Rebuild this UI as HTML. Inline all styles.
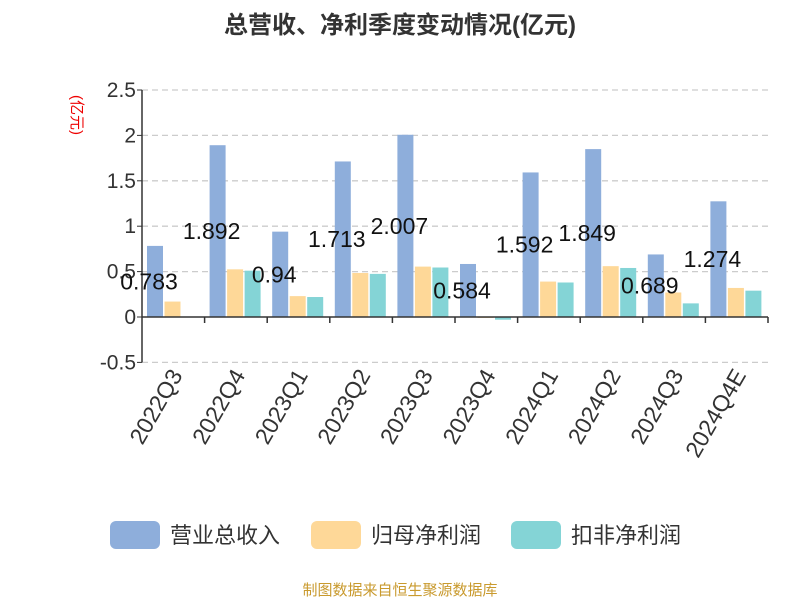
<!DOCTYPE html>
<html><head><meta charset="utf-8"><style>
body{margin:0;background:#fff;font-family:"Liberation Sans","Noto Sans CJK SC",sans-serif}
</style></head><body>
<svg width="800" height="600" xmlns="http://www.w3.org/2000/svg" id="chart" font-family="Liberation Sans, Noto Sans CJK SC, sans-serif">
<text x="400" y="33" text-anchor="middle" font-size="24" font-weight="bold" fill="#333">总营收、净利季度变动情况(亿元)</text>
<text transform="translate(72,115) rotate(90)" text-anchor="middle" font-size="15" fill="#e00">(亿元)</text>
<g id="grid"></g><g id="bars"></g><g id="labels"></g><g id="xaxis"></g>
<g>
<g><rect x="110" y="521" width="50" height="28" rx="6" fill="#8eaedb"/><text x="170" y="543" font-size="22" fill="#333">营业总收入</text></g>
<g><rect x="311" y="521" width="50" height="28" rx="6" fill="#fed898"/><text x="371" y="543" font-size="22" fill="#333">归母净利润</text></g>
<g><rect x="511" y="521" width="50" height="28" rx="6" fill="#84d4d6"/><text x="571" y="543" font-size="22" fill="#333">扣非净利润</text></g>
</g>
<text x="400" y="595" text-anchor="middle" font-size="15" fill="#c99a2e">制图数据来自恒生聚源数据库</text>
</svg>
<script>
const categories=["2022Q3","2022Q4","2023Q1","2023Q2","2023Q3","2023Q4","2024Q1","2024Q2","2024Q3","2024Q4E"];
const revenue=[0.783,1.892,0.94,1.713,2.007,0.584,1.592,1.849,0.689,1.274];
const netProfit=[0.17,0.525,0.23,0.485,0.555,-0.01,0.39,0.56,0.27,0.32];
const deductedProfit=[0,0.51,0.22,0.475,0.545,-0.03,0.38,0.54,0.15,0.29];
const yTicks=[-0.5,0,0.5,1,1.5,2,2.5];
const yTickLabels=["-0.5","0","0.5","1","1.5","2","2.5"];
const NS="http://www.w3.org/2000/svg";
const x0=142,x1=768,zeroY=317,pxPerUnit=90.8;
const cw=(x1-x0)/categories.length;
const y=v=>zeroY-v*pxPerUnit;
function mk(tag,attrs,parent){const e=document.createElementNS(NS,tag);for(const k in attrs)e.setAttribute(k,attrs[k]);document.getElementById(parent).appendChild(e);return e;}
yTicks.forEach((t,i)=>{
 if(t!==0){const l=mk('line',{x1:x0,x2:x1,y1:y(t),y2:y(t),stroke:'#ccc','stroke-dasharray':'6,4','stroke-width':1.3},'grid');
 
 }
 const tl=mk('text',{x:x0-6,y:y(t)+7,'text-anchor':'end','font-size':21,fill:'#333'},'grid');tl.textContent=yTickLabels[i];
 
 
 const tk=mk('line',{x1:x0-5,x2:x0,y1:y(t),y2:y(t),stroke:'#333'},'grid');
 
 
});
const ya=mk('line',{x1:x0,x2:x0,y1:y(2.5),y2:y(-0.5),stroke:'#333','stroke-width':1.5},'grid');


const series=[[revenue,'#8eaedb','bar-revenue'],[netProfit,'#fed898','bar-net-profit'],[deductedProfit,'#84d4d6','bar-deducted-profit']];
const bw=16,gap=1.5,off=5;
categories.forEach((c,i)=>{
 const cx=x0+i*cw;
 series.forEach(([arr,col,nm],s)=>{
  const v=arr[i];const bx=cx+off+s*(bw+gap);
  const r=mk('rect',{x:bx,y:Math.min(y(v),zeroY),width:bw,height:Math.max(Math.abs(y(v)-zeroY),0.5),fill:col},'bars');
  
  
 });
 const lt=mk('text',{x:cx+off+bw/2-6,y:(y(revenue[i])+zeroY)/2+8,'text-anchor':'middle','font-size':23,fill:'#111'},'labels');
 lt.textContent=String(revenue[i]);
 
 
 const tk=mk('line',{x1:cx+cw,x2:cx+cw,y1:zeroY,y2:zeroY+6,stroke:'#333','stroke-width':1.5},'xaxis');
 
 
 const xl=mk('text',{transform:`translate(${cx+cw/2+10},${zeroY+58}) rotate(-60)`,'text-anchor':'end','font-size':23,fill:'#333'},'xaxis');
 xl.textContent=c;
 
 
});
const xa=mk('line',{x1:x0,x2:x1,y1:zeroY,y2:zeroY,stroke:'#333','stroke-width':1.5},'xaxis');


</script>
</body></html>
